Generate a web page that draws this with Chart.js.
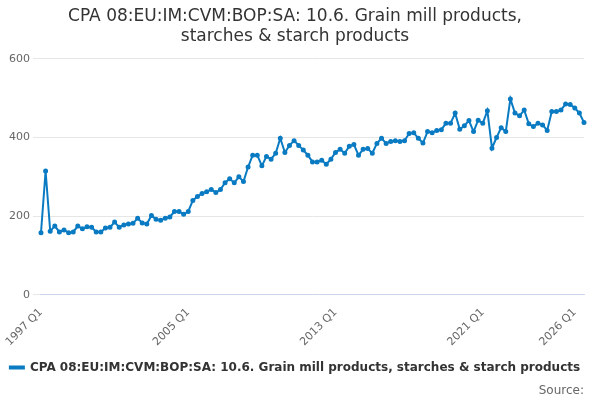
<!DOCTYPE html>
<html>
<head>
<script src="https://cdn.jsdelivr.net/npm/chart.js@4"></script>
<style>body{margin:0;background:#fff}#wrap{width:600px;height:400px}</style>
</head>
<body>
<div id="wrap"><canvas id="c"></canvas></div>
<script>
const seriesName = 'CPA 08:EU:IM:CVM:BOP:SA: 10.6. Grain mill products, starches & starch products';
const shownTicks = ['1997 Q1', '2005 Q1', '2013 Q1', '2021 Q1', '2026 Q1'];
const values = [
  158, 315, 162, 175,  160, 165, 158, 160,  175, 168, 173, 172,  160, 160, 170, 172,
  185, 172, 178, 180,  182, 195, 183, 180,  202, 192, 190, 195,  198, 212, 212, 205,
  212, 240, 250, 258,  262, 268, 260, 268,  285, 295, 285, 300,  288, 325, 355, 355,
  328, 352, 345, 360,  398, 362, 380, 392,  380, 368, 355, 338,  338, 342, 332, 345,
  362, 370, 360, 378,  382, 355, 370, 372,  360, 385, 398, 385,  390, 392, 390, 392,
  410, 412, 398, 386,  415, 412, 418, 420,  436, 436, 462, 421,  430, 443, 415, 444,
  436, 468,
  373, 400, 425, 415,  498, 462, 455, 470,  435, 428, 436, 432,  418, 466, 466, 470,
  485, 484, 475, 462,  438
];
// quarterly labels from 1997 Q1
const labels = values.map((v, i) => (1997 + Math.floor(i / 4)) + ' Q' + (i % 4 + 1));

new Chart(document.getElementById('c'), {
  type: 'line',
  data: {
    labels: labels,
    datasets: [{
      label: seriesName,
      data: values,
      borderColor: '#0a7bc2',
      backgroundColor: '#0a7bc2',
      borderWidth: 2,
      pointRadius: 1.5,
      tension: 0
    }]
  },
  options: {
    responsive: true,
    maintainAspectRatio: false,
    animation: false,
    layout: { padding: { left: 6, right: 16, bottom: 0 } },
    plugins: {
      title: {
        display: true,
        text: ['CPA 08:EU:IM:CVM:BOP:SA: 10.6. Grain mill products,', 'starches & starch products'],
        color: '#333',
        font: { family: 'DejaVu Sans', size: 17, weight: 'normal' },
        padding: { top: 6, bottom: 12 }
      },
      legend: {
        position: 'bottom',
        labels: {
          color: '#333',
          font: { family: 'DejaVu Sans', size: 12, weight: 'bold' },
          boxWidth: 14, boxHeight: 2
        }
      },
      subtitle: {
        display: true,
        position: 'bottom',
        align: 'end',
        text: 'Source:',
        color: '#666',
        font: { family: 'DejaVu Sans', size: 12 },
        padding: { top: 0, bottom: 2 }
      }
    },
    scales: {
      x: {
        grid: { display: false },
        border: { color: '#ccd6eb' },
        ticks: {
          autoSkip: false,
          maxRotation: 45,
          minRotation: 45,
          color: '#666',
          font: { family: 'DejaVu Sans', size: 11 },
          callback: function (v) {
            const l = this.getLabelForValue(v);
            return shownTicks.includes(l) ? l : null;
          }
        }
      },
      y: {
        min: 0, max: 600,
        ticks: { stepSize: 200, color: '#666', font: { family: 'DejaVu Sans', size: 11 } },
        grid: { color: '#e6e6e6' },
        border: { display: false }
      }
    }
  }
});
</script>
</body>
</html>
